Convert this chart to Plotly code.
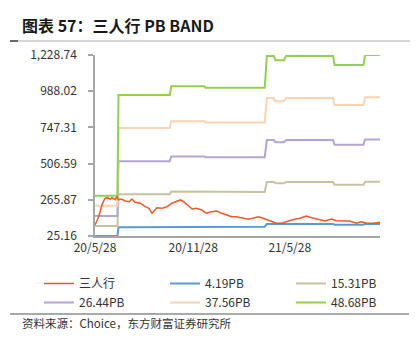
import plotly.graph_objects as go

# ---- data ----
price_dates = [
    "2020-05-28", "2020-06-04", "2020-06-10", "2020-06-15", "2020-06-19", "2020-06-26",
    "2020-06-29", "2020-07-05", "2020-07-08", "2020-07-11", "2020-07-16", "2020-07-24",
    "2020-07-31", "2020-08-05", "2020-08-11", "2020-08-21", "2020-08-30", "2020-09-06",
    "2020-09-12", "2020-09-17", "2020-09-21", "2020-09-30", "2020-10-10", "2020-10-19",
    "2020-10-28", "2020-11-04", "2020-11-10", "2020-11-19", "2020-11-26", "2020-12-04",
    "2020-12-14", "2020-12-23", "2021-01-01", "2021-01-11", "2021-01-20", "2021-01-30",
    "2021-02-08", "2021-02-17", "2021-02-27", "2021-03-11", "2021-03-20", "2021-03-30",
    "2021-04-08", "2021-04-21", "2021-05-03", "2021-05-12", "2021-05-22", "2021-05-28",
    "2021-06-06", "2021-06-16", "2021-06-28", "2021-07-08", "2021-07-20", "2021-08-02",
    "2021-08-14", "2021-08-23", "2021-09-05", "2021-09-17", "2021-09-30", "2021-10-09",
    "2021-10-19", "2021-10-31", "2021-11-13",
]
price_values = [
    98, 153, 231, 271, 280, 271,
    280, 267, 287, 265, 271, 258,
    253, 271, 249, 243, 220, 209,
    176, 198, 213, 209, 220, 243,
    253, 265, 253, 226, 205, 209,
    198, 176, 187, 191, 176, 165,
    153, 153, 147, 136, 143, 153,
    143, 125, 110, 110, 120, 131,
    136, 143, 158, 147, 136, 125,
    138, 127, 125, 125, 110, 120,
    110, 110, 116,
]

bvps_dates = [
    "2020-05-28", "2020-07-09", "2020-07-11", "2020-10-15", "2020-10-18", "2020-12-19",
    "2020-12-21", "2021-04-11", "2021-04-15", "2021-04-28", "2021-05-01", "2021-05-17",
    "2021-05-21", "2021-08-17", "2021-08-20", "2021-10-13", "2021-10-16", "2021-11-13",
]
bvps_values = [
    6.005, 6.005, 19.78, 19.78, 20.97, 20.97,
    20.77, 20.77, 25.10, 25.10, 24.52, 24.52,
    25.10, 25.10, 23.87, 23.87, 25.24, 25.24,
]

pb_multiples = [4.19, 15.31, 26.44, 37.56, 48.68]
band_names = ["4.19PB", "15.31PB", "26.44PB", "37.56PB", "48.68PB"]
band_colors = ["#5B9BD5", "#C9C2A2", "#B3A5D5", "#FCD3B2", "#92D050"]

y_ticks = [25.16, 265.87, 506.59, 747.31, 988.02, 1228.74]
y_tick_labels = ["25.16", "265.87", "506.59", "747.31", "988.02", "1,228.74"]
x_ticks = ["2020-05-28", "2020-11-28", "2021-05-28"]
x_tick_labels = ["20/5/28", "20/11/28", "21/5/28"]

# ---- layout geometry (pixels) ----
W, H = 417, 352
L, R, T, B = 95, 380, 55, 236
FONT = "Noto Sans CJK SC, Noto Sans, sans-serif"


def px_x(px):
    return (px - L) / (R - L)


def px_y(py):
    return (B - py) / (B - T)


fig = go.Figure()

for i, (pb, name, color) in enumerate(zip(pb_multiples, band_names, band_colors)):
    fig.add_trace(go.Scatter(
        x=bvps_dates, y=[pb * v for v in bvps_values], mode="lines", name=name,
        line=dict(color=color, width=2), legendrank=i + 2,
    ))

fig.add_trace(go.Scatter(
    x=price_dates, y=price_values, mode="lines", name="三人行",
    line=dict(color="#E85A2A", width=1.5), legendrank=1,
))

fig.update_layout(
    width=W, height=H,
    margin=dict(l=L, r=W - R, t=T, b=H - B, pad=0),
    paper_bgcolor="white", plot_bgcolor="white",
    font=dict(family=FONT, size=12, color="#333333"),
    xaxis=dict(
        type="date", range=["2020-05-28", "2021-11-13"],
        tickvals=x_ticks, ticktext=x_tick_labels,
        showgrid=False, zeroline=False,
        showline=True, linecolor="#A6A6A6", linewidth=1.5,
        ticks="", layer="below traces",
        tickfont=dict(size=12, color="#333333"),
    ),
    yaxis=dict(
        range=[25.16, 1228.74], tickvals=y_ticks, ticktext=y_tick_labels,
        showgrid=False, zeroline=False,
        showline=True, linecolor="#A6A6A6", linewidth=1.5,
        ticks="outside", ticklen=5, tickcolor="#A6A6A6", tickwidth=1.5,
        ticklabelstandoff=9,
        tickfont=dict(size=12, color="#333333"),
    ),
    showlegend=True,
    legend=dict(
        orientation="h", x=px_x(40), xanchor="left",
        y=px_y(269), yanchor="top",
        entrywidth=81, entrywidthmode="pixels",
        font=dict(size=12, color="#333333"),
        bgcolor="rgba(0,0,0,0)", itemclick=False,
        tracegroupgap=0,
    ),
)

# title
fig.add_annotation(
    text="<b>图表 57：三人行 PB BAND</b>",
    xref="paper", yref="paper", x=px_x(20), y=px_y(25),
    xanchor="left", yanchor="middle", showarrow=False,
    font=dict(family=FONT, size=16, color="#1a1a1a"),
)

# title underline and source line
fig.add_shape(type="line", xref="paper", yref="paper",
              x0=px_x(10), x1=px_x(410), y0=px_y(41), y1=px_y(41),
              line=dict(color="#AAAAAA", width=1))
fig.add_shape(type="line", xref="paper", yref="paper",
              x0=px_x(10), x1=px_x(18), y0=px_y(41), y1=px_y(41),
              line=dict(color="#444444", width=1.5))
fig.add_shape(type="line", xref="paper", yref="paper",
              x0=px_x(10), x1=px_x(409), y0=px_y(314), y1=px_y(314),
              line=dict(color="#555555", width=1))

fig.add_annotation(
    text="资料来源：Choice，东方财富证券研究所",
    xref="paper", yref="paper", x=px_x(20), y=px_y(323),
    xanchor="left", yanchor="middle", showarrow=False,
    font=dict(family=FONT, size=11.5, color="#333333"),
)

fig.write_html("out.html")
